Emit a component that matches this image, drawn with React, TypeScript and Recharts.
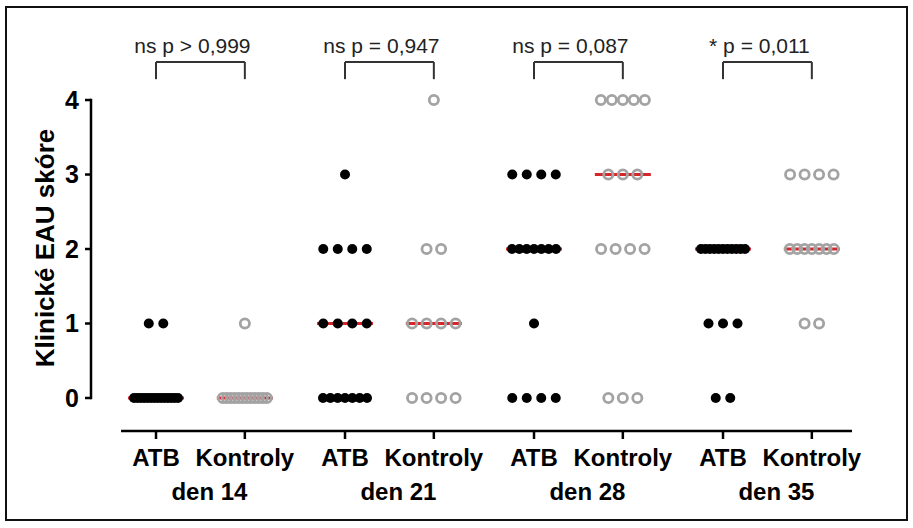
import React from 'react';
import { ScatterChart, Scatter, XAxis, YAxis, ReferenceLine } from 'recharts';

// skupiny a popisky
const groups = ['den 14', 'den 21', 'den 28', 'den 35'];
const arms = ['ATB', 'Kontroly'];
const pValues = ['ns p > 0,999', 'ns p = 0,947', 'ns p = 0,087', '* p = 0,011'];
const yTicks = [0, 1, 2, 3, 4];

// klinické skóre jednotlivých zvířat
const atbDen14 = [0, 0, 0, 0, 0, 0, 0, 0, 0, 0, 0, 0, 0, 0, 1, 1];
const atbDen21 = [0, 0, 0, 0, 0, 0, 0, 1, 1, 1, 1, 2, 2, 2, 2, 3];
const atbDen28 = [0, 0, 0, 0, 1, 2, 2, 2, 2, 2, 2, 2, 3, 3, 3, 3];
const atbDen35 = [0, 0, 1, 1, 1, 2, 2, 2, 2, 2, 2, 2, 2, 2, 2, 2];

const kontrolyDen14 = [0, 0, 0, 0, 0, 0, 0, 0, 0, 0, 0, 0, 1];
const kontrolyDen21 = [0, 0, 0, 0, 1, 1, 1, 1, 2, 2, 4];
const kontrolyDen28 = [0, 0, 0, 2, 2, 2, 2, 3, 3, 3, 4, 4, 4, 4, 4];
const kontrolyDen35 = [1, 1, 2, 2, 2, 2, 2, 2, 2, 3, 3, 3, 3];

const atbScores = [atbDen14, atbDen21, atbDen28, atbDen35];
const kontrolyScores = [kontrolyDen14, kontrolyDen21, kontrolyDen28, kontrolyDen35];

// layout
const PX_PER_UNIT = 94.5;
const GROUP_STEP = 2;
const CTRL_OFFSET = 0.94;
const X_DOMAIN = [-0.688, 7.365];
const Y_DOMAIN = [-0.443, 4.94];
const AXIS_START = -0.37;
const DOT_STEP = 14.5 / PX_PER_UNIT;
const MAX_SPREAD = 44 / PX_PER_UNIT;
const FONT = '"Liberation Sans", Arial, sans-serif';

const swarm = (scores: number[], center: number) => {
  const counts = new Map<number, number>();
  scores.forEach(s => counts.set(s, (counts.get(s) || 0) + 1));
  const pts: { x: number; y: number }[] = [];
  counts.forEach((n, v) => {
    const step = n > 1 ? Math.min(DOT_STEP, MAX_SPREAD / (n - 1)) : 0;
    for (let i = 0; i < n; i++) pts.push({ x: center + (i - (n - 1) / 2) * step, y: v });
  });
  return pts;
};

const median = (scores: number[]) => {
  const s = [...scores].sort((a, b) => a - b);
  const m = Math.floor(s.length / 2);
  return s.length % 2 ? s[m] : (s[m - 1] + s[m]) / 2;
};

const atbX = groups.map((_, g) => g * GROUP_STEP);
const ctrlX = groups.map((_, g) => g * GROUP_STEP + CTRL_OFFSET);
const xTicks = groups.flatMap((_, g) => [atbX[g], ctrlX[g]]);

const atbPoints = atbScores.flatMap((s, g) => swarm(s, atbX[g]));
const ctrlPoints = kontrolyScores.flatMap((s, g) => swarm(s, ctrlX[g]));
const medians = [
  ...atbScores.map((s, g) => ({ x: atbX[g], y: median(s) })),
  ...kontrolyScores.map((s, g) => ({ x: ctrlX[g], y: median(s) })),
];

const BRACKET_TOP = 4.51;
const BRACKET_LEG = 4.28;

const Dot = (p: any) => <circle cx={p.cx} cy={p.cy} r={5} fill="#000" />;
const Ring = (p: any) => <circle cx={p.cx} cy={p.cy} r={4.6} fill="none" stroke="#a3a3a3" strokeWidth={2.8} />;
const MedianMark = (p: any) => (
  <line x1={p.cx - 28} x2={p.cx + 28} y1={p.cy} y2={p.cy} stroke="#d7262b" strokeWidth={3} />
);

const XTick = (props: any) => {
  const { x, y, index } = props;
  const g = Math.floor(index / 2);
  return (
    <g>
      <text x={x} y={y + 25} textAnchor="middle" fontSize={24} fontWeight={700} fill="#000">
        {arms[index % 2]}
      </text>
      {index % 2 === 0 && (
        <text x={x + (CTRL_OFFSET * PX_PER_UNIT) / 2 + 9} y={y + 59} textAnchor="middle" fontSize={24} fontWeight={700} fill="#000">
          {groups[g]}
        </text>
      )}
    </g>
  );
};

const YLabel = () => (
  <text x={45} y={248} transform="rotate(-90, 45, 248)" textAnchor="middle" dominantBaseline="central" fontSize={26} fontWeight={700} fill="#000">
    Klinické EAU skóre
  </text>
);

const PLabel = (text: string) => (props: any) => {
  const vb = props.viewBox;
  return (
    <text x={vb.x + vb.width / 2 - 8} y={vb.y - 9} textAnchor="middle" fontSize={21} fill="#222">
      {text}
    </text>
  );
};

export default function App() {
  return (
    <div style={{ position: 'fixed', top: 0, left: 0, width: 913, height: 528, background: '#fff', fontFamily: FONT }}>
      <div style={{ position: 'absolute', left: 5, top: 6, width: 903, height: 515, border: '2px solid #111', boxSizing: 'border-box' }} />
      <div style={{ position: 'absolute', left: 0, top: 0 }}>
        <ScatterChart width={913} height={528} margin={{ top: 30, right: 61, bottom: 7, left: 31 }}>
          <XAxis
            type="number"
            dataKey="x"
            domain={X_DOMAIN}
            allowDataOverflow
            ticks={xTicks}
            interval={0}
            height={90}
            tickSize={8}
            axisLine={false}
            tickLine={{ stroke: '#000', strokeWidth: 2.5 }}
            tick={XTick}
          />
          <YAxis
            type="number"
            dataKey="y"
            domain={Y_DOMAIN}
            allowDataOverflow
            ticks={yTicks}
            width={60}
            tickSize={6}
            tickMargin={6}
            axisLine={false}
            tickLine={{ stroke: '#000', strokeWidth: 2.5 }}
            tick={{ fontSize: 25, fontWeight: 700, fill: '#000' }}
            label={YLabel}
          />
          <ReferenceLine segment={[{ x: X_DOMAIN[0], y: 0 }, { x: X_DOMAIN[0], y: 4 }]} stroke="#000" strokeWidth={2.5} strokeLinecap="square" />
          <ReferenceLine segment={[{ x: AXIS_START, y: Y_DOMAIN[0] }, { x: X_DOMAIN[1], y: Y_DOMAIN[0] }]} stroke="#000" strokeWidth={2.5} />
          {groups.map((_, g) => (
            <ReferenceLine
              key={`bt-${g}`}
              segment={[{ x: atbX[g], y: BRACKET_TOP }, { x: ctrlX[g], y: BRACKET_TOP }]}
              stroke="#333"
              strokeWidth={2}
              label={PLabel(pValues[g])}
            />
          ))}
          {groups.map((_, g) => (
            <ReferenceLine key={`bl-${g}`} segment={[{ x: atbX[g], y: BRACKET_TOP }, { x: atbX[g], y: BRACKET_LEG }]} stroke="#333" strokeWidth={2} />
          ))}
          {groups.map((_, g) => (
            <ReferenceLine key={`br-${g}`} segment={[{ x: ctrlX[g], y: BRACKET_TOP }, { x: ctrlX[g], y: BRACKET_LEG }]} stroke="#333" strokeWidth={2} />
          ))}
          <Scatter data={medians} shape={MedianMark} isAnimationActive={false} />
          <Scatter data={atbPoints} shape={Dot} isAnimationActive={false} />
          <Scatter data={ctrlPoints} shape={Ring} isAnimationActive={false} />
        </ScatterChart>
      </div>
    </div>
  );
}
